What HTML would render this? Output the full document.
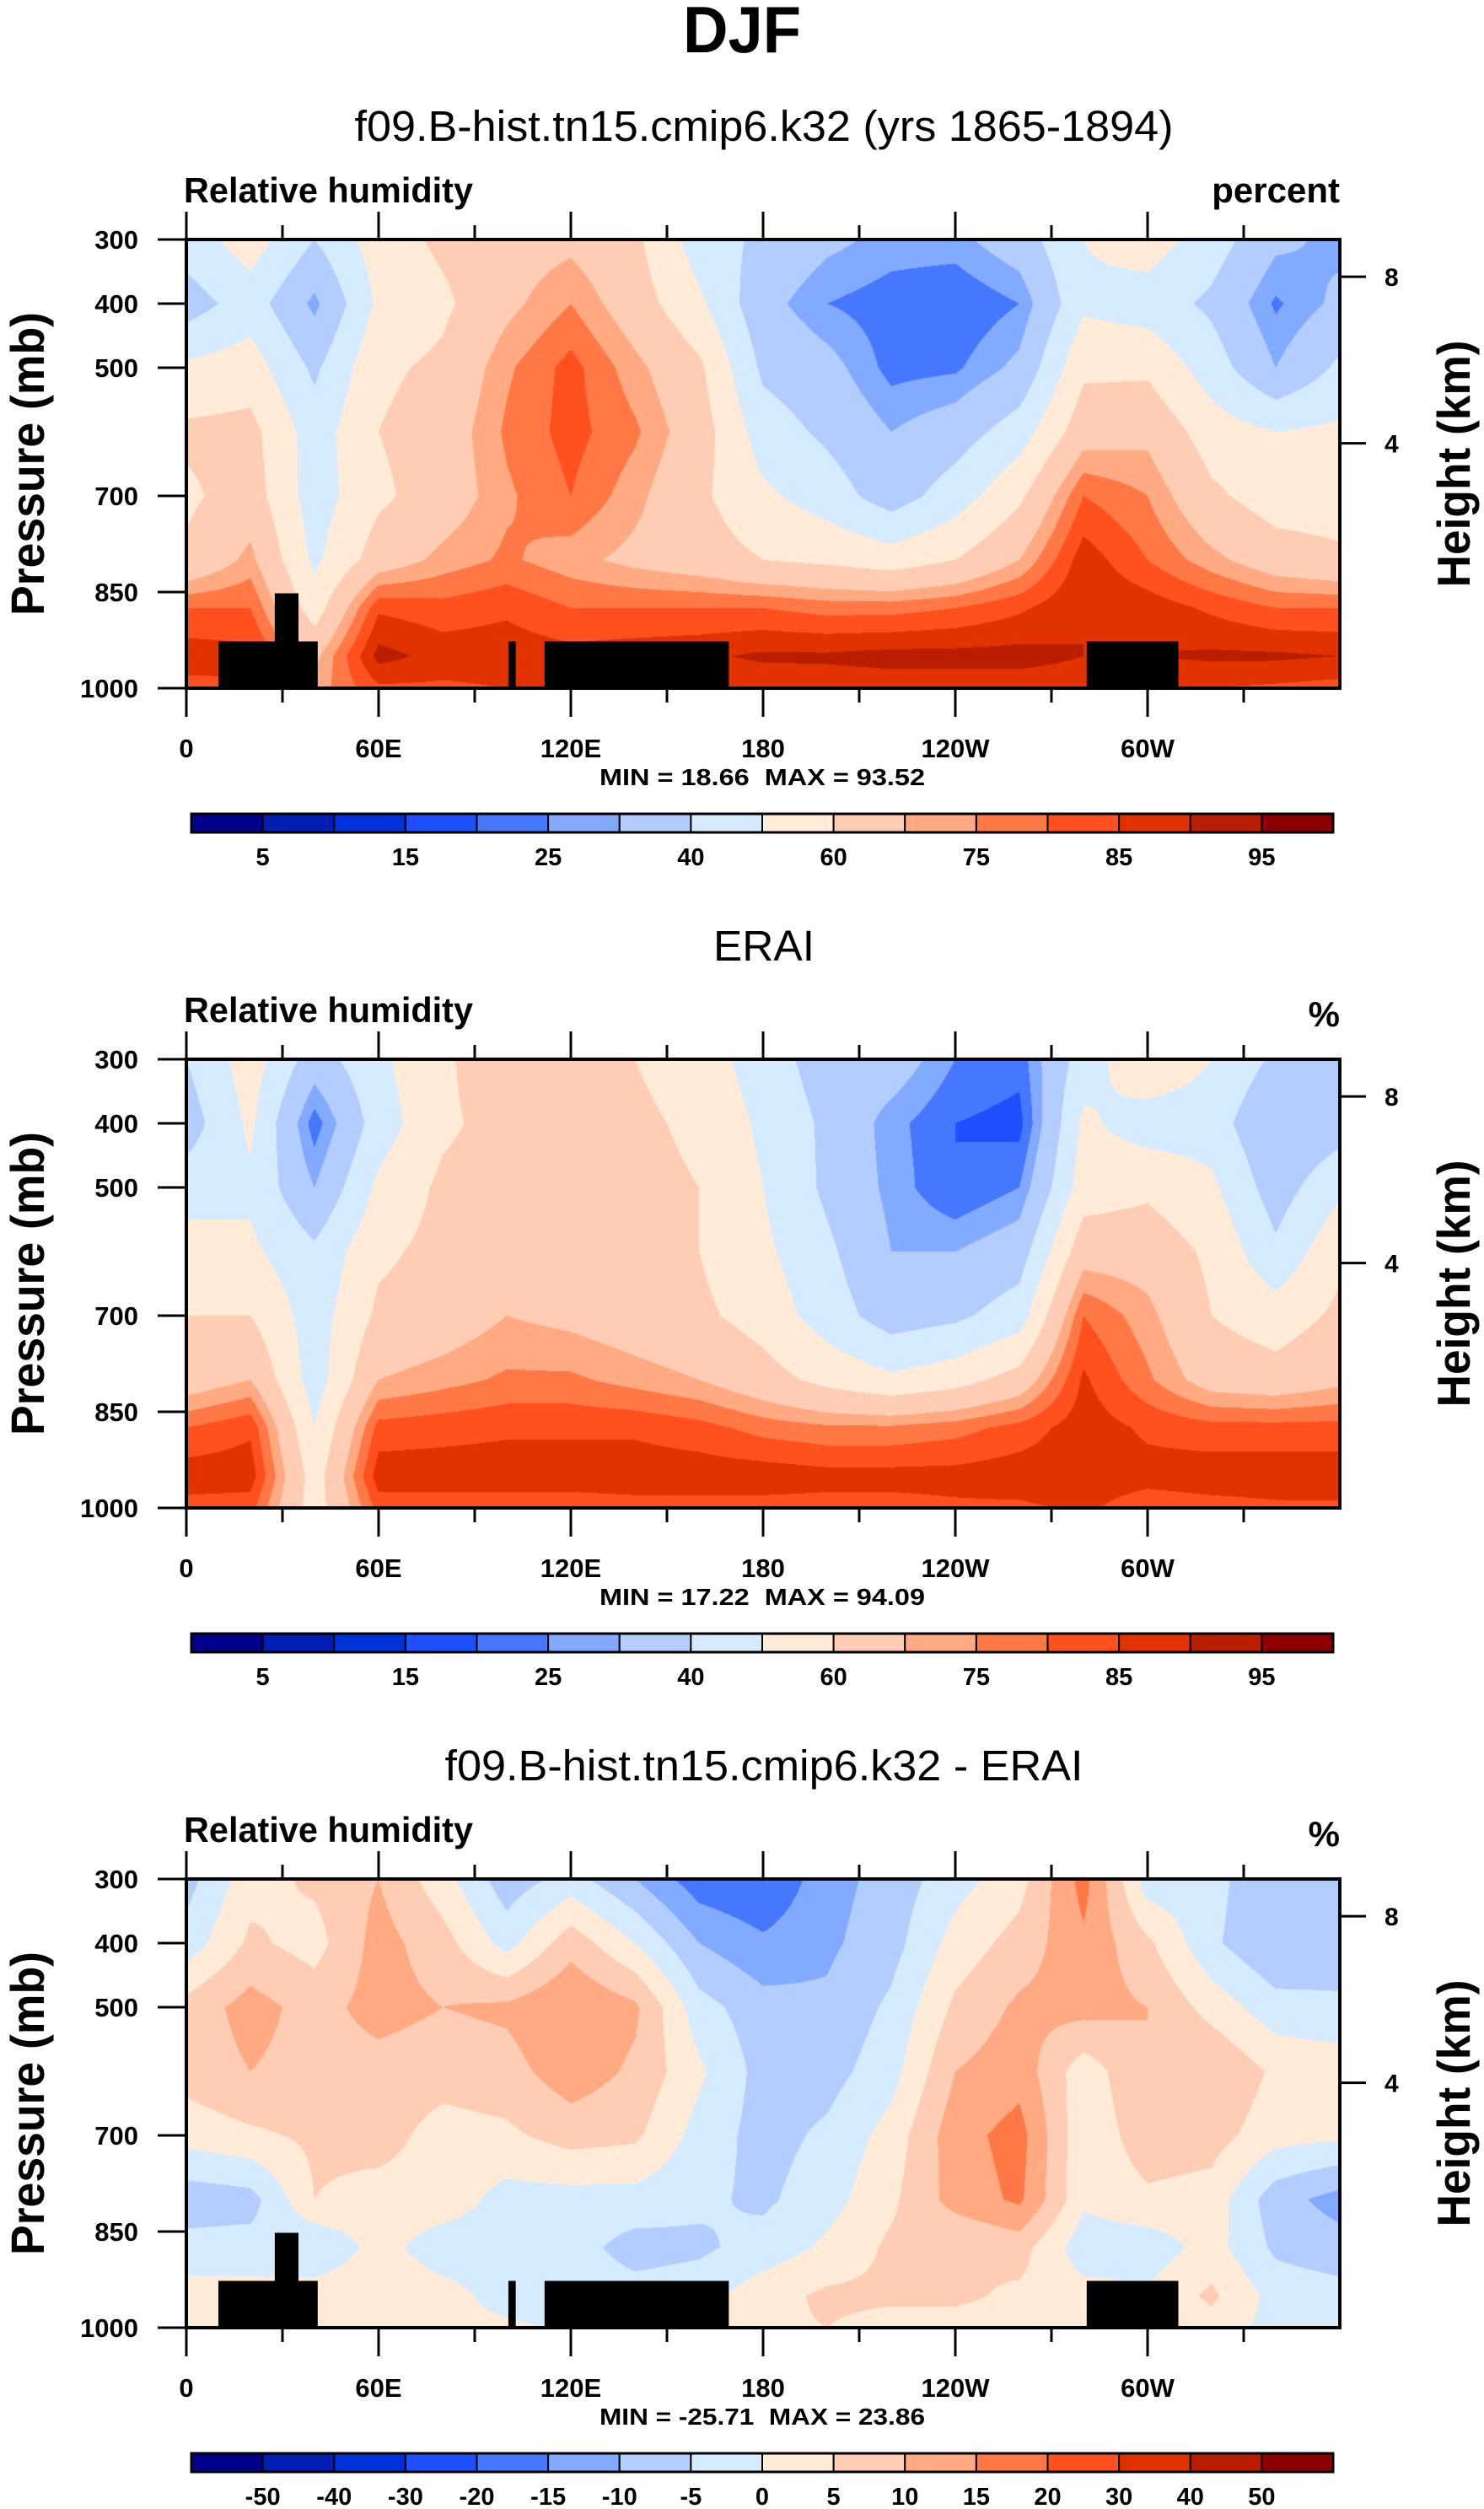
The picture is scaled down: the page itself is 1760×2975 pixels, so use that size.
<!DOCTYPE html>
<html><head><meta charset="utf-8">
<style>
html,body{margin:0;padding:0;background:#fff;}
#page{position:relative;width:1760px;height:2975px;overflow:hidden;background:#fff;}
canvas{position:absolute;}
svg{position:absolute;left:0;top:0;}
text{font-family:"Liberation Sans",sans-serif;fill:#000;}
</style></head>
<body>
<div id="page">
<canvas id="c0"></canvas>
<canvas id="c1"></canvas>
<canvas id="c2"></canvas>
<svg id="svg" width="1760" height="2975"></svg>
</div>
<script>
// ---- data ----
const lons = [0,20,40,60,80,100,120,140,160,180,200,220,240,260,280,300,320,340,360];
const levels = [300,400,500,600,700,800,875,950,1000];
const modelRH = [
 [45,55,40,55,62,66,68,62,45,38,32,28,28,35,50,55,45,32,28],
 [35,45,28,52,58,68,75,65,52,33,25,22,20,25,48,45,38,24,32],
 [52,55,38,58,62,74,82,72,62,38,33,23,24,32,58,58,45,30,42],
 [62,63,45,60,65,76,82,76,65,45,38,30,35,45,66,68,55,50,52],
 [58,65,45,58,65,74,80,72,62,52,45,35,45,58,80,75,62,55,55],
 [62,72,48,65,72,76,72,68,65,60,58,55,60,70,88,80,72,65,62],
 [80,80,55,84,82,84,80,80,80,80,78,78,80,84,90,88,84,80,80],
 [88,87,68,92,88,88,87,88,89,91,91,92,92,92,90,90,91,91,90],
 [83,84,72,84,84,85,85,85,86,86,87,87,87,87,87,85,85,84,83]
];
const eraiRH = [
 [40,55,35,48,58,68,62,60,55,45,35,35,25,22,45,58,50,38,40],
 [35,52,22,45,58,64,63,62,58,48,38,27,20,18,52,45,45,30,35],
 [45,48,30,52,62,65,64,63,60,50,38,28,20,25,55,58,52,35,48],
 [55,52,42,58,63,67,66,64,60,52,42,30,30,35,66,66,58,42,58],
 [60,60,45,62,65,70,68,65,62,56,45,35,38,45,80,72,60,55,62],
 [65,70,45,70,73,76,76,73,70,64,57,52,56,64,86,76,66,64,68],
 [80,84,50,82,83,84,84,84,82,78,76,76,78,82,88,84,82,82,82],
 [88,88,55,88,88,88,88,88,88,88,87,87,87,88,88,87,88,88,88],
 [83,82,55,82,82,82,82,83,83,83,83,83,84,84,86,82,83,84,84]
];
const diffRH = [
 [-7,3,6,10,2,-8,-3,-10,-18,-20,-12,-8,-2,3,17,-3,-3,-10,-8],
 [-3,6,3,12,7,-2,8,0,-10,-14,-11,-7,2,7,14,6,-4,-10,-8],
 [7,12,8,12,10,11,15,11,-3,-8,-9,-4,6,11,12,10,3,-3,-4],
 [7,10,8,8,7,8,13,9,1,-7,-7,-2,10,13,2,10,10,4,3],
 [2,4,6,7,3,4,7,6,-2,-7,-4,2,13,17,1,8,7,2,1],
 [-8,-7,5,3,3,-2,-2,-2,-4,-6,-2,4,12,16,1,4,3,-8,-12],
 [-3,-3,-5,2,-3,-3,-3,-7,-6,-3,1,6,5,7,-3,-3,2,-6,-8],
 [2,2,3,4,2,-2,-2,-3,-2,3,6,6,6,4,2,1,6,-2,-3],
 [2,2,3,2,1,1,-1,-1,2,4,5,3,3,3,3,1,3,-2,-2]
];
const rhLevels = [5,10,15,20,25,30,40,50,60,70,75,80,85,90,95];
const rhLabels = ["5","","15","","25","","40","","60","","75","","85","","95"];
const diffLevels = [-50,-40,-30,-20,-15,-10,-5,0,5,10,15,20,30,40,50];
const diffLabels = ["-50","-40","-30","-20","-15","-10","-5","0","5","10","15","20","30","40","50"];
const maskLonStart = [10,27.6,100.5,111.8,281];
const maskLonEnd = [41,35,102.8,169.3,309.6];
const maskTopP = [927,852,927,927,927];
const lonTicks = [0,60,120,180,240,300];
const lonTickLabels = ["0","60E","120E","180","120W","60W"];
const lonMinor = [30,90,150,210,270,330];
const pTicks = [300,400,500,700,850,1000];
const hTickP = [358,618];
const hTickLabels = ["8","4"];
const titles = ["f09.B-hist.tn15.cmip6.k32 (yrs 1865-1894)","ERAI","f09.B-hist.tn15.cmip6.k32 - ERAI"];
const titleW = [971,120,757];
const units = ["percent","%","%"];
const minmax = ["MIN =\u00a018.66\u00a0\u00a0MAX =\u00a093.52","MIN =\u00a017.22\u00a0\u00a0MAX =\u00a094.09","MIN =\u00a0-25.71\u00a0\u00a0MAX =\u00a023.86"];
const palette = [[0,0,140],[0,30,180],[0,50,220],[30,80,255],[70,120,255],[130,170,255],[180,205,255],[215,235,255],[255,235,215],[255,205,180],[255,170,130],[255,120,70],[255,80,30],[225,50,0],[185,30,0],[140,0,0]];

// ---- geometry ----
const L=221, R=1589, T0=284, B0=816, DY=972;
const xS = lon => L + (lon/360)*(R-L);
const yS = (p,k) => T0 + k*DY + (p-300)/700*(B0-T0);
const NS="http://www.w3.org/2000/svg";
const svg=document.getElementById('svg');
function mk(tag,attrs,parent){const e=document.createElementNS(NS,tag);for(const a in attrs)e.setAttribute(a,attrs[a]);(parent||svg).appendChild(e);return e;}
function txt(s,attrs){const e=mk('text',attrs);e.textContent=s;return e;}

function sample(grid,lon,p){
  let i=0; while(i<lons.length-2 && lon>lons[i+1]) i++;
  let j=0; while(j<levels.length-2 && p>levels[j+1]) j++;
  const fx=(lon-lons[i])/(lons[i+1]-lons[i]);
  const fy=(p-levels[j])/(levels[j+1]-levels[j]);
  const a=grid[j][i],b=grid[j][i+1],c=grid[j+1][i],d=grid[j+1][i+1];
  return (a*(1-fx)+b*fx)*(1-fy)+(c*(1-fx)+d*fx)*fy;
}
function colorIdx(v,lv){let k=0;while(k<lv.length && v>=lv[k])k++;return k;}

const grids=[modelRH,eraiRH,diffRH];
const lvls=[rhLevels,rhLevels,diffLevels];
const labs=[rhLabels,rhLabels,diffLabels];
const W=R-L, H=B0-T0;
for(let k=0;k<3;k++){
  const cv=document.getElementById('c'+k);
  cv.width=W; cv.height=H; cv.style.left=L+'px'; cv.style.top=(T0+k*DY)+'px';
  const ctx=cv.getContext('2d'); const img=ctx.createImageData(W,H);
  for(let y=0;y<H;y++){
    const p=300+(y+0.5)/H*700;
    for(let x=0;x<W;x++){
      const lon=(x+0.5)/W*360;
      const c=palette[colorIdx(sample(grids[k],lon,p),lvls[k])];
      const o=(y*W+x)*4; img.data[o]=c[0];img.data[o+1]=c[1];img.data[o+2]=c[2];img.data[o+3]=255;
    }
  }
  ctx.putImageData(img,0,0);
}

txt("DJF",{x:880,y:62,'text-anchor':'middle','font-size':78,'font-weight':'bold',textLength:140,lengthAdjust:'spacingAndGlyphs',});

for(let k=0;k<3;k++){
  const o=k*DY, top=T0+o, bot=B0+o;
  const g=mk('g',{});
  if(k!==1){
    for(let m=0;m<maskLonStart.length;m++){
      const r=mk('rect',{x:xS(maskLonStart[m]),y:yS(maskTopP[m],k),width:xS(maskLonEnd[m])-xS(maskLonStart[m]),height:bot-yS(maskTopP[m],k),fill:'#000'},g);
      
      
    }
  }
  mk('rect',{x:L,y:top,width:W,height:H,fill:'none',stroke:'#000','stroke-width':4,},g);
  lonTicks.forEach((lon,i)=>{
    mk('line',{x1:xS(lon),x2:xS(lon),y1:bot,y2:bot+34,stroke:'#000','stroke-width':3},g);
    mk('line',{x1:xS(lon),x2:xS(lon),y1:top,y2:top-33,stroke:'#000','stroke-width':3},g);
    const t=txt(lonTickLabels[i],{x:xS(lon),y:bot+82,'text-anchor':'middle','font-size':31,'font-weight':'bold'});
    
    
  });
  lonMinor.forEach(lon=>{
    mk('line',{x1:xS(lon),x2:xS(lon),y1:bot,y2:bot+17,stroke:'#000','stroke-width':3},g);
    mk('line',{x1:xS(lon),x2:xS(lon),y1:top,y2:top-17,stroke:'#000','stroke-width':3},g);
  });
  pTicks.forEach(p=>{
    mk('line',{x1:187,x2:L,y1:yS(p,k),y2:yS(p,k),stroke:'#000','stroke-width':3},g);
    const t=txt(String(p),{x:164,y:yS(p,k)+11,'text-anchor':'end','font-size':31,'font-weight':'bold'});
    
    
  });
  hTickP.forEach((p,i)=>{
    mk('line',{x1:R,x2:R+31,y1:yS(p,k),y2:yS(p,k),stroke:'#000','stroke-width':3},g);
    const t=txt(hTickLabels[i],{x:1642,y:yS(p,k)+11,'font-size':30,'font-weight':'bold'});
    
    
  });
  txt("Pressure (mb)",{x:0,y:0,transform:`translate(52,${550+o}) rotate(-90)`,'text-anchor':'middle','font-size':56,'font-weight':'bold',textLength:360,lengthAdjust:'spacingAndGlyphs',});
  txt("Height (km)",{x:0,y:0,transform:`translate(1743,${550+o}) rotate(-90)`,'text-anchor':'middle','font-size':55,'font-weight':'bold',textLength:293,lengthAdjust:'spacingAndGlyphs',});
  txt(titles[k],{x:906,y:167+o,'text-anchor':'middle','font-size':51,textLength:titleW[k],lengthAdjust:'spacingAndGlyphs',});
  txt("Relative humidity",{x:218,y:240+o,'font-size':42,'font-weight':'bold',textLength:343,lengthAdjust:'spacingAndGlyphs',});
  txt(units[k],{x:1589,y:(k?245:240)+o,'text-anchor':'end','font-size':42,'font-weight':'bold',});
  txt(minmax[k],{x:904,y:931+o,'text-anchor':'middle','font-size':28,'font-weight':'bold',textLength:386,lengthAdjust:'spacingAndGlyphs',});
  const cbL=227, cbR=1581, cbT=965+o, cbH=22, bw=(cbR-cbL)/palette.length;
  palette.forEach((c,i)=>{
    const r=mk('rect',{x:cbL+i*bw,y:cbT,width:bw,height:cbH,fill:`rgb(${c[0]},${c[1]},${c[2]})`,stroke:'#000','stroke-width':2},g);
    
    
  });
  mk('rect',{x:cbL,y:cbT,width:cbR-cbL,height:cbH,fill:'none',stroke:'#000','stroke-width':3},g);
  labs[k].forEach((s,i)=>{
    if(!s) return;
    const t=txt(s,{x:cbL+(i+1)*bw,y:cbT+cbH+39,'text-anchor':'middle','font-size':29,'font-weight':'bold'});
    
    
  });
}
</script>
</body></html>
